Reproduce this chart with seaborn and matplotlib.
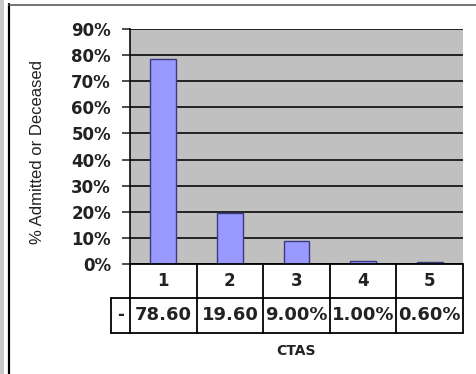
import matplotlib
matplotlib.use("Agg")
import matplotlib.pyplot as plt
import matplotlib.transforms as mtransforms
from matplotlib import font_manager
from matplotlib.lines import Line2D
from matplotlib.patches import Rectangle
import seaborn as sns
import pandas as pd

# Share of patients admitted or deceased, by CTAS triage level
ctas_levels = ["1", "2", "3", "4", "5"]
pct_admitted = [78.6, 19.6, 9.0, 1.0, 0.6]
table_labels = ["78.60", "19.60", "9.00%", "1.00%", "0.60%"]
y_ticks = [0, 10, 20, 30, 40, 50, 60, 70, 80, 90]
y_tick_labels = ["0%", "10%", "20%", "30%", "40%", "50%", "60%", "70%", "80%", "90%"]

sns.set_style("white")
plt.rcParams["font.family"] = ["DejaVu Sans"]

# a narrow face for the axis title, if one is available
installed = {f.name for f in font_manager.fontManager.ttflist}
narrow_family = "Liberation Sans Narrow" if "Liberation Sans Narrow" in installed else "Liberation Sans"

W, H = 477, 374
fig = plt.figure(figsize=(W / 100, H / 100), dpi=100)
fig.patch.set_facecolor("white")

PX = 72 / 100  # points per pixel


def fx(px):
    return px / W


def fy(py):
    return 1 - py / H


# plot area in pixel terms
AX_L, AX_R, AX_T, AX_B = 130, 463, 29, 264
ROW1_B, ROW2_B, LEG_L = 298, 333, 111

ax = fig.add_axes([fx(AX_L), fy(AX_B), (AX_R - AX_L) / W, (AX_B - AX_T) / H])
df = pd.DataFrame({"CTAS": ctas_levels, "pct": pct_admitted})
sns.barplot(data=df, x="CTAS", y="pct", ax=ax, color="#9999ff", width=0.39,
            edgecolor="#3a3a80", linewidth=1.0, saturation=1)
ax.set_facecolor("#c0c0c0")
ax.set_xlim(-0.5, len(ctas_levels) - 0.5)
ax.set_ylim(0, 90)
ax.set_yticks(y_ticks)
ax.set_yticklabels(y_tick_labels, fontsize=12, fontweight="bold", color="#222222")
ax.set_xticks([])
ax.set_xlabel("")
ax.set_ylabel("")
ax.yaxis.grid(True, color="black", linewidth=1.6 * PX)
ax.set_axisbelow(True)
ax.tick_params(axis="y", direction="out", length=8 * PX, width=1.6 * PX,
               pad=11 * PX, left=True)
for side in ["top", "right", "bottom"]:
    ax.spines[side].set_visible(False)
ax.spines["left"].set_color("black")
ax.spines["left"].set_linewidth(1.6 * PX)

# data table under the bars
blend = mtransforms.blended_transform_factory(ax.transData, fig.transFigure)
n = len(ctas_levels)
lw = 1.8 * PX


def hline(y, x0, x1):
    fig.add_artist(Line2D([fx(x0), fx(x1)], [fy(y), fy(y)], color="black", lw=lw,
                          transform=fig.transFigure))


def vline_data(xd, y0, y1):
    fig.add_artist(Line2D([xd, xd], [fy(y0), fy(y1)], color="black", lw=lw,
                          transform=blend))


hline(AX_B, AX_L, AX_R)
hline(ROW1_B, LEG_L, AX_R)
hline(ROW2_B, LEG_L, AX_R)
fig.add_artist(Line2D([fx(LEG_L), fx(LEG_L)], [fy(ROW1_B), fy(ROW2_B)], color="black",
                      lw=lw, transform=fig.transFigure))
for k in range(n + 1):
    vline_data(k - 0.5, AX_B, ROW2_B)

fig.text(fx((LEG_L + AX_L) / 2), fy((ROW1_B + ROW2_B) / 2), "-", ha="center",
         va="center", fontsize=12, fontweight="bold", color="#222222")

for i, (lvl, lab) in enumerate(zip(ctas_levels, table_labels)):
    fig.text(i, fy((AX_B + ROW1_B) / 2), lvl, transform=blend, ha="center",
             va="center", fontsize=12, fontweight="bold", color="#222222")
    t = fig.text(i, fy((ROW1_B + ROW2_B) / 2), lab, transform=blend, ha="center",
                 va="center", fontsize=13, fontweight="bold", color="#222222")
    clip = Rectangle((i - 0.5, fy(ROW2_B)), 1.0, fy(ROW1_B) - fy(ROW2_B),
                     transform=blend, facecolor="none", edgecolor="none")
    t.set_clip_path(clip)

fig.text(fx(296), fy(351), "CTAS", ha="center", va="center", fontsize=10,
         fontweight="bold", color="#222222")

fig.text(fx(38), fy(152), "% Admitted or Deceased", rotation=90, ha="center",
         va="center", fontsize=12, color="#222222",
         family=[narrow_family, "DejaVu Sans"])

# frame decorations at the left and top
fig.add_artist(Rectangle((0, 0), fx(4), 1, transform=fig.transFigure,
                         facecolor="#c8c8c8", edgecolor="none"))
fig.add_artist(Line2D([fx(9), fx(9)], [0, fy(4)], color="black", lw=2.2 * PX,
                      transform=fig.transFigure))
fig.add_artist(Line2D([fx(9), 1], [fy(4.5), fy(4.5)], color="#555555", lw=1.6 * PX,
                      transform=fig.transFigure))

fig.savefig("out.png", dpi=100)
